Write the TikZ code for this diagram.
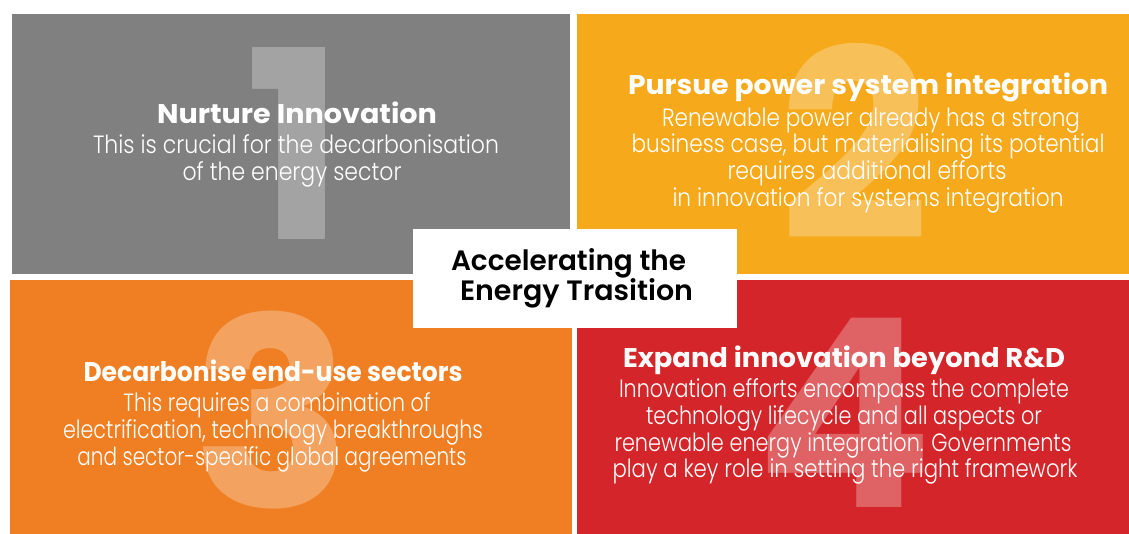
\documentclass[tikz,border=0pt]{standalone}
\usepackage{fontspec}
\usepackage{graphicx}
\setmainfont{Poppins}
\newfontfamily\bodyfont{Poppins Light}
\newfontfamily\headfont{Poppins Bold}
\newfontfamily\midfont{Poppins SemiBold}
\newsavebox\fitbx
\newcommand\fitw[2]{\sbox\fitbx{#2}\pgfmathsetmacro\fitratio{#1/\the\wd\fitbx}\scalebox{\fitratio}[1]{\usebox\fitbx}}
\definecolor{cgrey}{HTML}{808080}
\definecolor{cyel}{HTML}{F6A91A}
\definecolor{corg}{HTML}{EF7F22}
\definecolor{cred}{HTML}{D4262A}
\tikzset{
  numeral/.style={anchor=base, inner sep=0pt, text=white, text opacity=0.28, font=\headfont\fontsize{263}{263}\selectfont},
  head/.style={anchor=base, inner sep=0pt, text=white, font=\headfont\fontsize{27}{27}\selectfont},
  body/.style={anchor=base, inner sep=0pt, text=white, font=\bodyfont\fontsize{25}{25}\selectfont},
  mid/.style={anchor=base, inner sep=0pt, text=black, font=\midfont\fontsize{28}{28}\selectfont},
}
\begin{document}
\begin{tikzpicture}[x=1pt,y=-1pt]
\useasboundingbox (0,0) rectangle (1129,534);
\fill[white] (0,0) rectangle (1129,534);
\fill[cgrey] (12,14) rectangle (570,274);
\fill[cyel] (577,14) rectangle (1129,274);
\fill[corg] (10,280) rectangle (572,534);
\fill[cred] (577,280) rectangle (1129,534);
% numerals
\node[numeral] (n1) at (295,240) {1};
\node[numeral] (n2) at (855,240) {2};
\node[numeral] (n3) at (272,507) {3};
\node[numeral] (n4) at (845,507) {4};
% panel 1
\node[head] (t1) at (297,124) {\fitw{280}{Nurture Innovation}};
\node[body] (b1a) at (296,154) {\fitw{406}{This is crucial for the decarbonisation}};
\node[body] (b1b) at (292,181) {\fitw{219}{of the energy sector}};
% panel 2
\node[head] (t2) at (868,95) {\fitw{480}{Pursue power system integration}};
\node[body] (b2a) at (871,127) {\fitw{418}{Renewable power already has a strong}};
\node[body] (b2b) at (868,153) {\fitw{473}{business case, but materialising its potential}};
\node[body] (b2c) at (867,180) {\fitw{279}{requires additional efforts}};
\node[body] (b2d) at (868,207) {\fitw{391}{in innovation for systems integration}};
% panel 3
\node[head] (t3) at (273,381) {\fitw{379}{Decarbonise end-use sectors}};
\node[body] (b3a) at (277,411) {\fitw{307}{This requires a combination of}};
\node[body] (b3b) at (273,438) {\fitw{420}{electrification, technology breakthroughs}};
\node[body] (b3c) at (272,465) {\fitw{389}{and sector-specific global agreements}};
% panel 4
\node[head] (t4) at (844,367) {\fitw{442}{Expand innovation beyond R\&D}};
\node[body] (b4a) at (844,397) {\fitw{450}{Innovation efforts encompass the complete}};
\node[body] (b4b) at (844,424) {\fitw{396}{technology lifecycle and all aspects or}};
\node[body] (b4c) at (843,451) {\fitw{457}{renewable energy integration. Governments}};
\node[body] (b4d) at (845,477) {\fitw{465}{play a key role in setting the right framework}};
% centre
\node[fill=white, minimum width=324pt, minimum height=99pt, inner sep=0pt] (hub) at (575,278.5) {};
\node[mid] (h1) at (568.5,271) {\fitw{235}{Accelerating the}};
\node[mid] (h2) at (576.5,301) {\fitw{233}{Energy Trasition}};
\end{tikzpicture}
\end{document}
